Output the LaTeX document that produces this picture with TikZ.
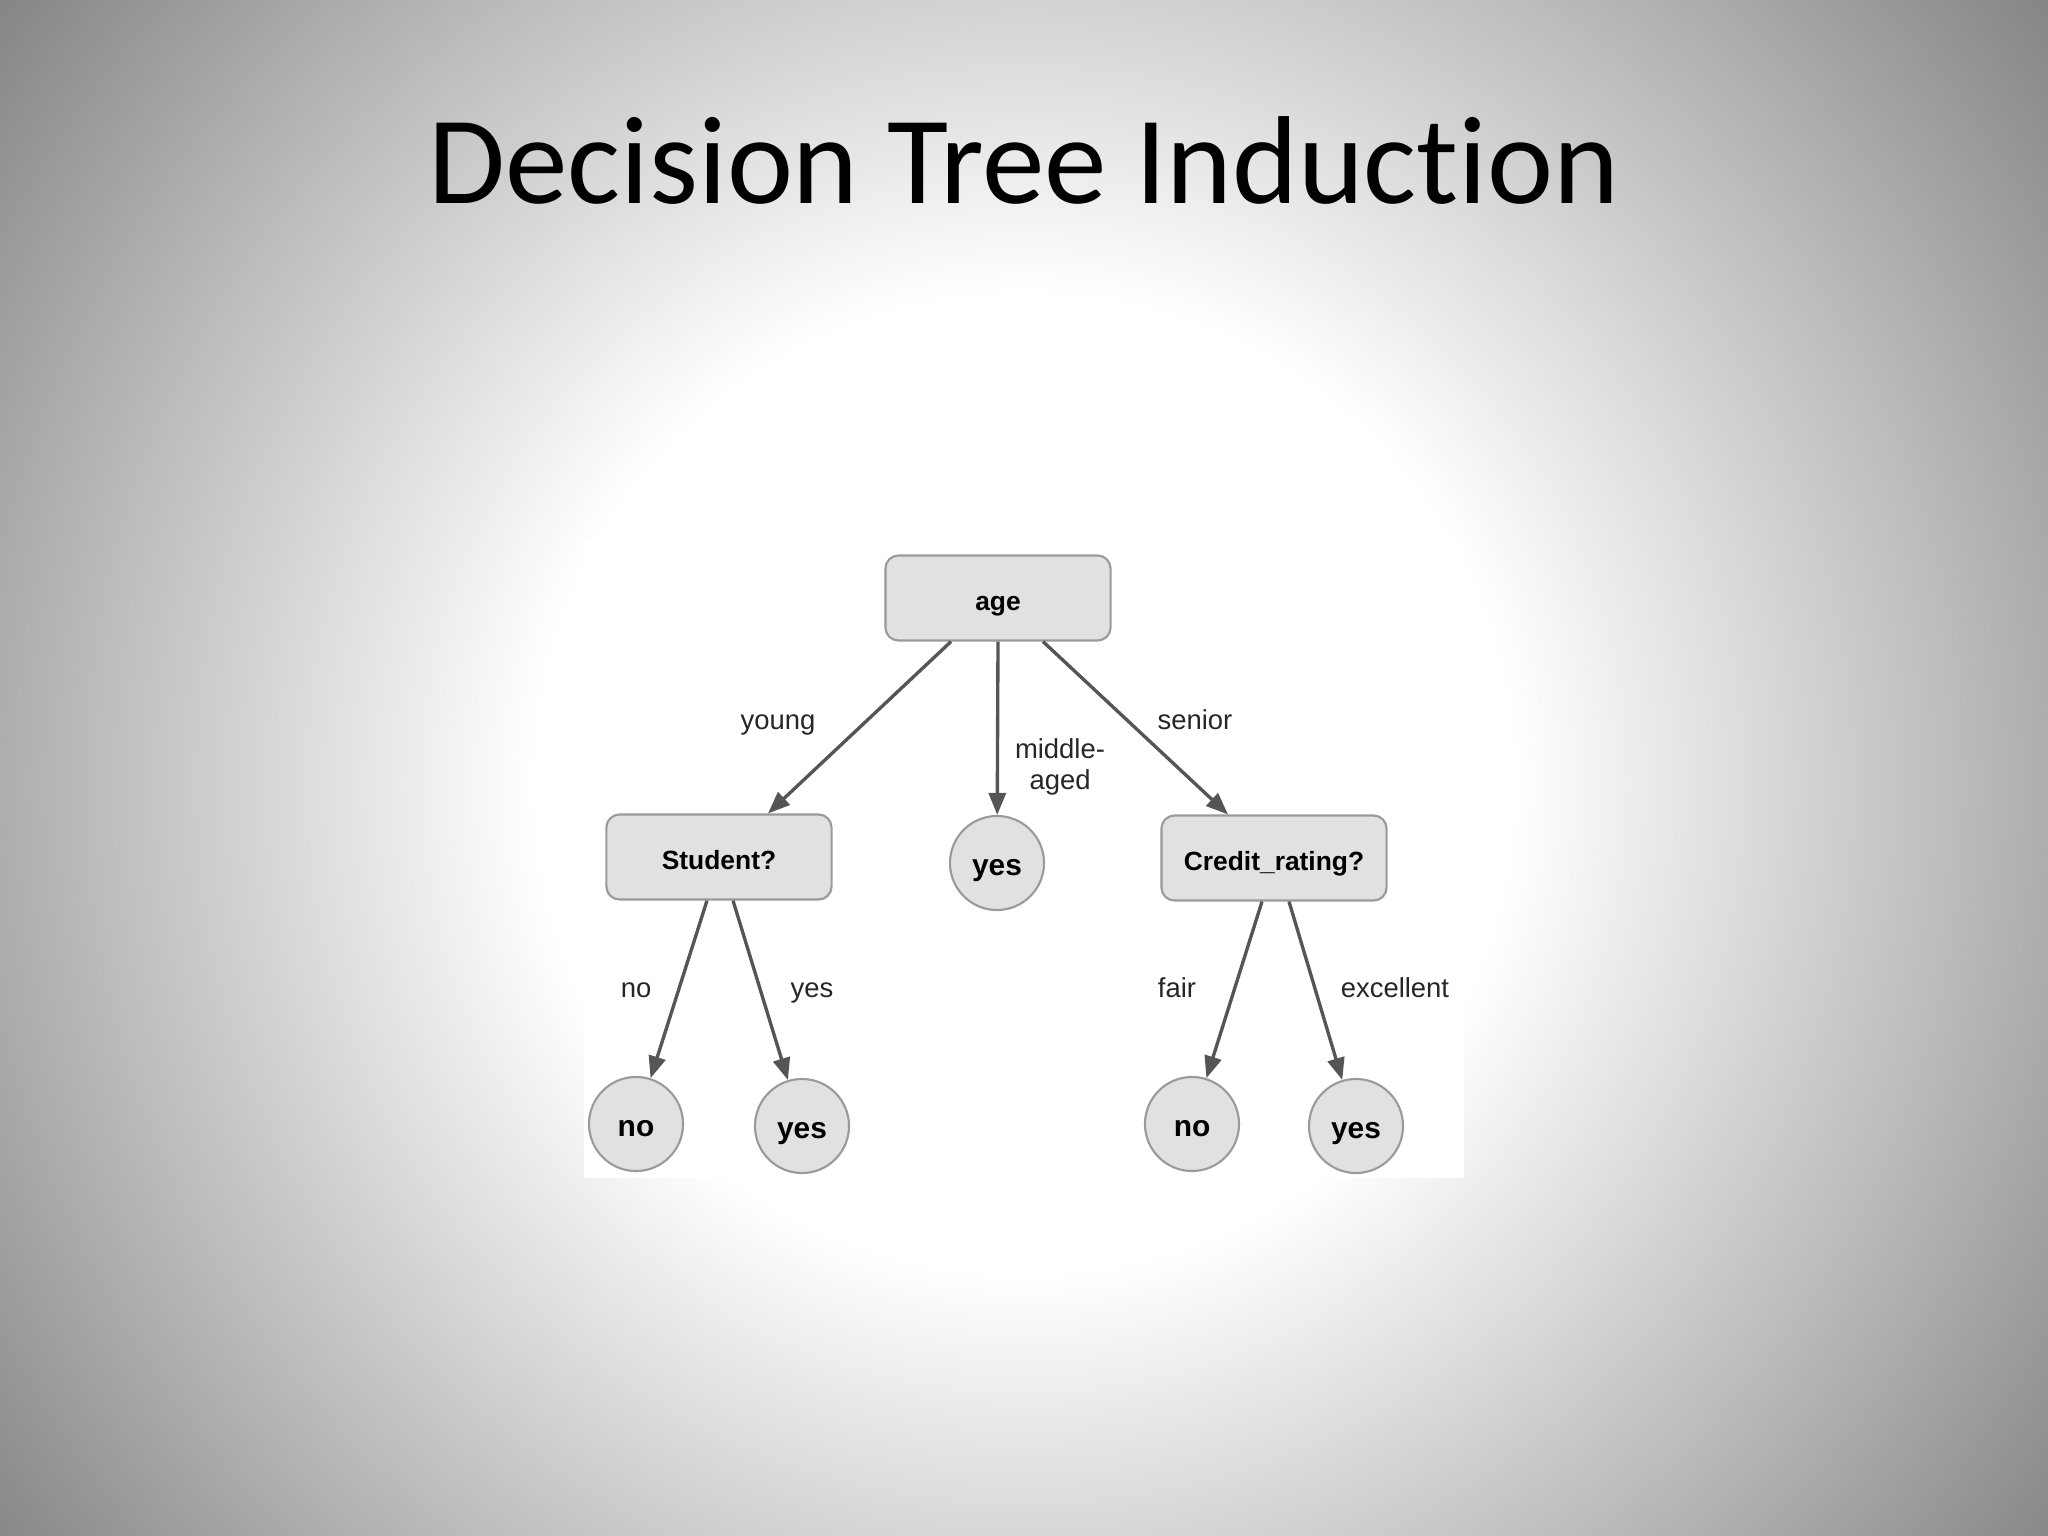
\documentclass[tikz,border=0pt]{standalone}
\usepackage{fontspec}
\setmainfont{Liberation Sans}
\newfontfamily\titlefont[Ligatures={NoCommon,NoContextual}]{Carlito}
\usetikzlibrary{arrows.meta,calc}
\definecolor{gcc}{gray}{0.455}
\definecolor{nodefill}{HTML}{E0E1E3}
\definecolor{nodeline}{HTML}{9A9A9A}
\definecolor{arrowcol}{HTML}{555555}
\pgfdeclareradialshading{bgshade}{\pgfpoint{0bp}{0bp}}{color(0bp)=(white); color(8.75bp)=(white); color(25bp)=(gcc); color(50bp)=(gcc)}
\tikzset{
  box/.style={draw=nodeline, line width=0.6pt, fill=nodefill, rounded corners=0.13cm,
    minimum width=2.25cm, minimum height=0.85cm, inner sep=0pt,
    text height=7pt, text depth=0pt,
    font=\bfseries\fontsize{7.5pt}{9pt}\selectfont},
  leaf/.style={circle, draw=nodeline, line width=0.6pt, fill=nodefill,
    minimum size=0.94cm, inner sep=0pt, text height=7pt, text depth=0pt,
    font=\bfseries\fontsize{8.5pt}{10pt}\selectfont},
  arr/.style={draw=arrowcol, line width=0.95pt, -{Triangle[length=0.22cm,width=0.17cm]}},
  lbl/.style={font=\fontsize{7.8pt}{8.7pt}\selectfont, text=black!85, align=center, inner sep=0pt}
}
\begin{document}
\begin{tikzpicture}[x=0.01cm,y=-0.01cm]
\useasboundingbox (0,0) rectangle (2048,1536);
\fill[gcc] (0,0) rectangle (2048,1536);
\begin{scope}
\clip (0,0) rectangle (2048,1536);
\shade[shading=bgshade] (1024,784) circle[radius=14cm];
\end{scope}
\node[font=\titlefont\fontsize{35.6pt}{42pt}\selectfont, anchor=base, inner sep=0pt] (title) at (1024,203) {Decision Tree Induction};
\fill[white] (584,540) rectangle (1464,1178);
% nodes
\node[box] (age) at (998,598) {age};
\node[box] (stu) at (719,857) {Student?};
\node[leaf] (myes) at (997,863) {yes};
\node[box] (cred) at (1274,858) {Credit\_rating?};
\node[leaf] (n1) at (636,1124) {no};
\node[leaf] (y1) at (802,1126) {yes};
\node[leaf] (n2) at (1192,1124) {no};
\node[leaf] (y2) at (1356,1126) {yes};
% connectors
\draw[arr] ([xshift=-0.47cm]age.south) -- ([xshift=0.49cm]stu.north);
\draw[arr] (age.south) -- (myes);
\draw[arr] ([xshift=0.45cm]age.south) -- ([xshift=-0.46cm]cred.north);
\draw[arr] ([xshift=-0.12cm]stu.south) -- (n1);
\draw[arr] ([xshift=0.14cm]stu.south) -- (y1);
\draw[arr] ([xshift=-0.12cm]cred.south) -- (n2);
\draw[arr] ([xshift=0.15cm]cred.south) -- (y2);
% labels
\node[lbl, anchor=base] (lyoung) at (778,729) {young};
\node[lbl] (lmid) at (1060,767) {middle-\\aged};
\node[lbl, anchor=base] (lsenior) at (1195,729) {senior};
\node[lbl, anchor=base] (lno) at (636,997) {no};
\node[lbl, anchor=base] (lyes) at (812,997) {yes};
\node[lbl, anchor=base] (lfair) at (1177,997) {fair};
\node[lbl, anchor=base] (lexc) at (1395,997) {excellent};
\end{tikzpicture}
\end{document}
